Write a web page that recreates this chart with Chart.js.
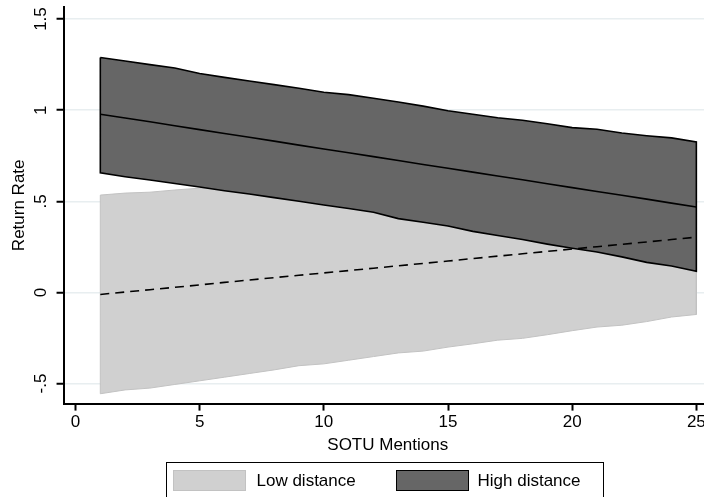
<!DOCTYPE html>
<html>
<head>
<meta charset="utf-8">
<script src="https://cdn.jsdelivr.net/npm/chart.js@4.4.1/dist/chart.umd.min.js"></script>
<style>
  html, body { margin: 0; padding: 0; background: #fff; overflow: hidden; }
  #wrap { position: relative; width: 704px; height: 497px; overflow: hidden; }
  #chart { position: absolute; left: 0; top: 0; }
  #legend { position: absolute; left: 166px; top: 462px; width: 436px; height: 60px;
            border: 1.5px solid #000; font-family: "Liberation Sans", Arial, sans-serif;
            font-size: 17px; color: #000; }
  .sw { position: absolute; top: 6.5px; width: 73px; height: 21px; box-sizing: border-box; }
  .lbl { position: absolute; top: 8px; line-height: 20px; white-space: nowrap; }
</style>
</head>
<body>
<div id="wrap">
  <canvas id="chart" width="712" height="497"></canvas>
  <div id="legend">
    <div class="sw" style="left:5.5px; background:#d0d0d0; border:1px solid #c2c2c2;"></div>
    <div class="lbl" style="left:89.5px;">Low distance</div>
    <div class="sw" style="left:228.5px; background:#666666; border:1.5px solid #000;"></div>
    <div class="lbl" style="left:310.5px;">High distance</div>
  </div>
</div>
<script>
// SOTU mentions (x)
const xValues = [1, 2, 3, 4, 5, 6, 7, 8, 9, 10, 11, 12, 13, 14, 15, 16, 17, 18, 19, 20, 21, 22, 23, 24, 25];

// High distance: predicted return rate and its confidence band
const highMean = [0.978, 0.957, 0.936, 0.914, 0.893, 0.872, 0.851, 0.830, 0.808, 0.787, 0.766, 0.745, 0.724,
                  0.702, 0.681, 0.660, 0.639, 0.618, 0.596, 0.575, 0.554, 0.533, 0.512, 0.490, 0.469];
const highUpper = [1.289, 1.270, 1.250, 1.231, 1.201, 1.180, 1.160, 1.140, 1.120, 1.098, 1.085, 1.065, 1.045,
                   1.022, 0.997, 0.978, 0.958, 0.945, 0.925, 0.904, 0.895, 0.875, 0.860, 0.848, 0.826];
const highLower = [0.656, 0.635, 0.617, 0.598, 0.578, 0.558, 0.540, 0.520, 0.500, 0.480, 0.460, 0.440, 0.405,
                   0.385, 0.364, 0.335, 0.312, 0.290, 0.265, 0.242, 0.222, 0.195, 0.165, 0.145, 0.116];

// Low distance: predicted return rate and its confidence band
const lowMean = [-0.011, 0.002, 0.015, 0.028, 0.041, 0.055, 0.068, 0.081, 0.094, 0.107, 0.120, 0.133, 0.146,
                 0.159, 0.172, 0.186, 0.199, 0.212, 0.225, 0.238, 0.251, 0.264, 0.277, 0.290, 0.303];
const lowUpper = [0.534, 0.545, 0.550, 0.562, 0.572, 0.580, 0.590, 0.600, 0.610, 0.620, 0.625, 0.635, 0.645,
                  0.655, 0.660, 0.670, 0.680, 0.690, 0.695, 0.700, 0.705, 0.710, 0.715, 0.720, 0.725];
const lowLower = [-0.556, -0.535, -0.525, -0.505, -0.485, -0.465, -0.445, -0.425, -0.402, -0.392, -0.372, -0.352, -0.332,
                  -0.322, -0.300, -0.282, -0.262, -0.252, -0.232, -0.210, -0.190, -0.180, -0.160, -0.135, -0.121];

// axis ticks
const xTicks = [0, 5, 10, 15, 20, 25];
const yTicks = [-0.5, 0, 0.5, 1, 1.5];
const yTickLabels = ['-.5', '0', '.5', '1', '1.5'];

const font = { family: '"Liberation Sans", Arial, sans-serif', size: 17, lineHeight: 1.2 };

function toPoints(ys) {
    return xValues.map((x, i) => ({ x, y: ys[i] }));
}

// closed outline: upper edge left to right, lower edge right to left
function band(upper, lower) {
    const top = toPoints(upper);
    const bottom = toPoints(lower).reverse();
    return top.concat(bottom, [top[0]]);
}

// no extra room for edge tick labels, the plot runs to the frame
function noEdgePadding(scale) {
    scale.paddingLeft = 0;
    scale.paddingRight = 0;
    scale.paddingTop = 0;
    scale.paddingBottom = 0;
}

const lineBase = { pointRadius: 0, tension: 0, fill: false };

new Chart(document.getElementById('chart'), {
    type: 'line',
    data: {
        datasets: [
            { ...lineBase, label: 'High distance fit', data: toPoints(highMean), borderColor: '#000', borderWidth: 1.6 },
            { ...lineBase, label: 'Low distance fit', data: toPoints(lowMean), borderColor: '#000', borderWidth: 1.6, borderDash: [9, 6] },
            { ...lineBase, label: 'High distance', data: band(highUpper, highLower), fill: 'shape',
              backgroundColor: '#666666', borderColor: '#000', borderWidth: 1.6 },
            { ...lineBase, label: 'Low distance', data: band(lowUpper, lowLower), fill: 'shape',
              backgroundColor: '#d0d0d0', borderColor: '#c2c2c2', borderWidth: 1 }
        ]
    },
    options: {
        responsive: false,
        animation: false,
        layout: { padding: { left: 0, right: 0, top: 7, bottom: 43 } },
        plugins: {
            legend: { display: false },
            tooltip: { enabled: false }
        },
        scales: {
            x: {
                type: 'linear',
                min: -0.48,
                max: 25.63,
                afterBuildTicks: (scale) => { scale.ticks = xTicks.map(v => ({ value: v })); },
                afterFit: noEdgePadding,
                ticks: { font, color: '#000', padding: 2, maxRotation: 0, autoSkip: false },
                grid: { drawOnChartArea: false, tickLength: 7, tickColor: '#000', tickWidth: 2 },
                border: { color: '#000', width: 2 },
                title: { display: true, text: 'SOTU Mentions', color: '#000',
                         font: { ...font, lineHeight: 1.0 }, padding: { top: 2, bottom: 0 } }
            },
            y: {
                type: 'linear',
                min: -0.61,
                max: 1.566,
                afterBuildTicks: (scale) => { scale.ticks = yTicks.map(v => ({ value: v })); },
                afterFit: noEdgePadding,
                ticks: {
                    font: { ...font, lineHeight: 0.95 }, color: '#000', padding: 3,
                    minRotation: 90, maxRotation: 90, crossAlign: 'center',
                    callback: (value) => yTickLabels[yTicks.indexOf(value)]
                },
                grid: { color: '#e8eef0', lineWidth: 1.5, tickLength: 7, tickColor: '#000', tickWidth: 2 },
                border: { color: '#000', width: 2 },
                title: { display: true, text: 'Return Rate', color: '#000', font,
                         padding: { top: 9, bottom: 5 } }
            }
        }
    }
});
</script>
</body>
</html>
